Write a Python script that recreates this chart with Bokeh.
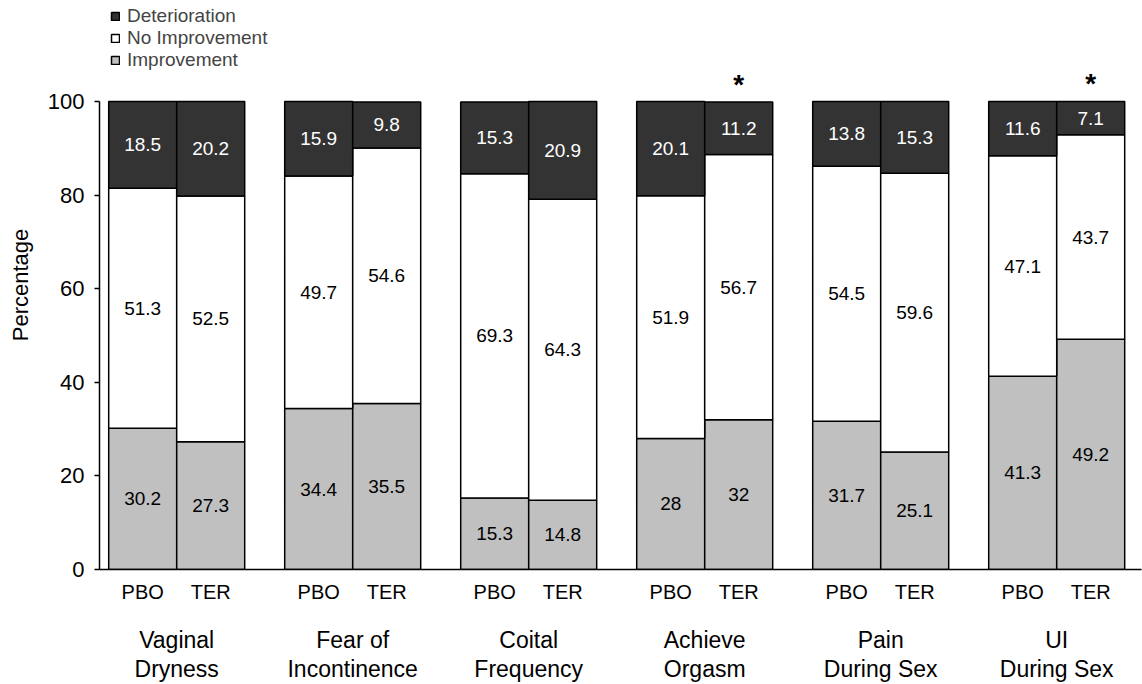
from bokeh.plotting import figure
from bokeh.models import (Range1d, LinearAxis, FixedTicker, Legend, LegendItem,
                          ColumnDataSource)
from bokeh.core.properties import value
from bokeh.embed import file_html
from bokeh.resources import INLINE

# ---------------- data ----------------
categories = ["Vaginal\nDryness", "Fear of\nIncontinence", "Coital\nFrequency",
              "Achieve\nOrgasm", "Pain\nDuring Sex", "UI\nDuring Sex"]
arms = ["PBO", "TER"]
# order: for each category PBO, TER
improvement = [30.2, 27.3, 34.4, 35.5, 15.3, 14.8, 28, 32, 31.7, 25.1, 41.3, 49.2]
no_improvement = [51.3, 52.5, 49.7, 54.6, 69.3, 64.3, 51.9, 56.7, 54.5, 59.6, 47.1, 43.7]
deterioration = [18.5, 20.2, 15.9, 9.8, 15.3, 20.9, 20.1, 11.2, 13.8, 15.3, 11.6, 7.1]
significant = [False, False, False, False, False, False, False, True, False, False, False, True]
y_ticks = [0, 20, 40, 60, 80, 100]
series_names = ["Improvement", "No Improvement", "Deterioration"]
series_colors = ["#c0c0c0", "#ffffff", "#333333"]

# ---------------- layout constants ----------------
BAR_W = 34
GROUP_STEP = 88
FONT = "Liberation Sans"

x = []
tick_labels = {}
for g in range(len(categories)):
    for j, arm in enumerate(arms):
        xx = g * GROUP_STEP + (j * 2 - 1) * (BAR_W // 2)
        x.append(xx)
        tick_labels[xx] = arm
group_ticks = [g * GROUP_STEP for g in range(len(categories))]
group_labels = {gt: c for gt, c in zip(group_ticks, categories)}

def fmt(v):
    return "{:g}".format(v)

src = ColumnDataSource(dict(x=x, improvement=improvement,
                            no_improvement=no_improvement,
                            deterioration=deterioration))

p = figure(width=1142, height=684, output_backend="svg", toolbar_location=None,
           x_range=Range1d(-38.6, 482.4), y_range=Range1d(0, 121.6),
           x_axis_type=None, min_border_left=99, min_border_right=1,
           min_border_top=0, min_border_bottom=115)
p.outline_line_color = None
p.grid.grid_line_color = None
p.background_fill_color = "white"

rs = p.vbar_stack(["improvement", "no_improvement", "deterioration"], x="x",
                  width=BAR_W, source=src, fill_color=series_colors,
                  line_color="black", line_width=1.5)

# segment labels
lx, ly, lt, lc = [], [], [], []
for i in range(len(x)):
    a, b, c = improvement[i], no_improvement[i], deterioration[i]
    for val, mid, col in ((a, a / 2, "black"), (b, a + b / 2, "black"),
                          (c, a + b + c / 2, "white")):
        lx.append(x[i]); ly.append(mid); lt.append(fmt(val)); lc.append(col)
p.text(x=lx, y=ly, text=lt, text_color=lc, text_align="center",
       text_baseline="middle", text_font=value(FONT), text_font_size="19px")

# significance stars
sx = [x[i] for i in range(len(x)) if significant[i]]
sy = [improvement[i] + no_improvement[i] + deterioration[i]
      for i in range(len(x)) if significant[i]]
p.text(x=sx, y=sy, text=["*"] * len(sx), text_align="center",
       text_baseline="alphabetic", y_offset=-18, text_font=value(FONT),
       text_font_size="28px", text_font_style="bold", text_color="black")

# y axis
ya = p.yaxis[0]
ya.ticker = FixedTicker(ticks=y_ticks)
ya.bounds = (0, 100)
ya.major_tick_out = 5
ya.major_tick_in = 0
ya.minor_tick_out = 0
ya.minor_tick_in = 0
ya.axis_line_width = 1.5
ya.major_tick_line_width = 1.5
ya.major_label_standoff = 10
ya.major_label_text_font = FONT
ya.major_label_text_font_size = "22px"
ya.major_label_text_color = "black"
ya.axis_label = "Percentage"
ya.axis_label_text_font = FONT
ya.axis_label_text_font_size = "22px"
ya.axis_label_text_font_style = "normal"
ya.axis_label_text_color = "black"
ya.axis_label_standoff = 12

# x axis with arm labels
xa = LinearAxis(ticker=FixedTicker(ticks=x), major_label_overrides=tick_labels)
xa.major_tick_out = 0
xa.major_tick_in = 0
xa.minor_tick_out = 0
xa.minor_tick_in = 0
xa.axis_line_width = 1.5
xa.major_label_standoff = 11
xa.major_label_text_font = FONT
xa.major_label_text_font_size = "20px"
xa.major_label_text_color = "black"
p.add_layout(xa, "below")

# x axis with group labels
ga = LinearAxis(ticker=FixedTicker(ticks=group_ticks), major_label_overrides=group_labels)
ga.axis_line_color = None
ga.major_tick_line_color = None
ga.minor_tick_line_color = None
ga.major_label_standoff = 15
ga.major_label_text_font = FONT
ga.major_label_text_font_size = "23px"
ga.major_label_text_line_height = 1.12
ga.major_label_text_color = "black"
p.add_layout(ga, "below")

# legend
legend = Legend(items=[LegendItem(label=series_names[2], renderers=[rs[2]]),
                       LegendItem(label=series_names[1], renderers=[rs[1]]),
                       LegendItem(label=series_names[0], renderers=[rs[0]])],
                location=(11, 498), orientation="vertical",
                glyph_width=10, glyph_height=10, label_standoff=7,
                spacing=0, padding=0, margin=0, label_height=22,
                border_line_color=None, background_fill_alpha=0,
                label_text_font=FONT, label_text_font_size="19px")
p.add_layout(legend)

open("out.html", "w").write(file_html(p, INLINE))
